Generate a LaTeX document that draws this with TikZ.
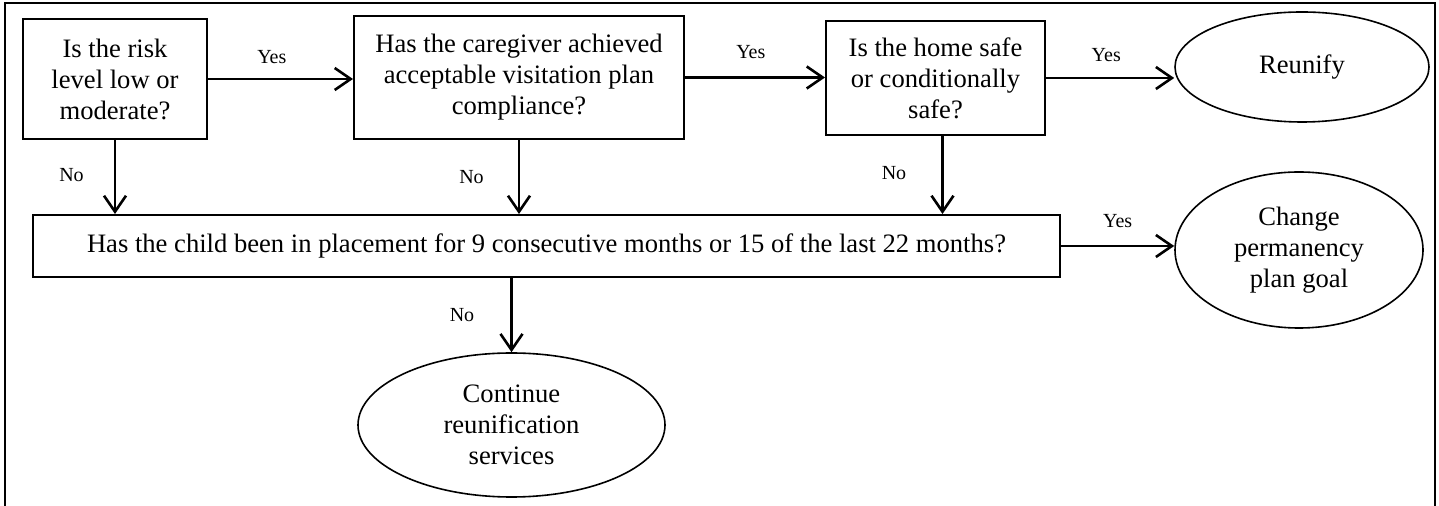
\documentclass[tikz,border=0pt]{standalone}
\usepackage{fontspec}
\setmainfont{Liberation Serif}
\usetikzlibrary{arrows.meta}
\usetikzlibrary{shapes.geometric}

\begin{document}
\begin{tikzpicture}[x=0.5pt, y=-0.5pt,
  qbox/.style={draw, line width=1pt, align=center, inner sep=0pt,
    font=\fontsize{13.3}{15.5}\selectfont},
  endoval/.style={draw, ellipse, line width=0.8pt, align=center, inner sep=0pt,
    font=\fontsize{13.3}{15.5}\selectfont},
  arr/.style={-{Straight Barb[length=8pt,width=11pt]}, line width=1.3pt},
  lbl/.style={font=\fontsize{10}{12}\selectfont, inner sep=0pt}]
\useasboundingbox (0,0) rectangle (1439,506);
\clip (0,0) rectangle (1439,506);
% frame
\draw[line width=1pt] (5,3) rectangle (1435,540);

% questions
\node[qbox, minimum width=92pt, minimum height=60pt] (risk) at (115,79) {Is the risk\\level low or\\moderate?};
\node[qbox, minimum width=165pt, minimum height=61.5pt] (comply) at (519,77.5) {Has the caregiver achieved\\acceptable visitation plan\\compliance?};
\node[qbox, minimum width=109.5pt, minimum height=57pt] (safe) at (935.5,78) {Is the home safe\\or conditionally\\safe?};
\node[qbox, minimum width=513.5pt, minimum height=31pt] (months) at (546.5,246) {Has the child been in placement for 9 consecutive months or 15 of the last 22 months?};

% outcomes
\node[endoval, minimum width=127pt, minimum height=55pt] (reunify) at (1302,67) {Reunify};
\node[endoval, minimum width=124pt, minimum height=78pt] (goal) at (1299,250) {Change\\permanency\\plan goal};
\node[endoval, minimum width=153.5pt, minimum height=72pt] (services) at (511.5,425) {Continue\\reunification\\services};

% yes
\draw[arr] (risk.east) -- (risk.east -| comply.west) node[lbl, pos=0.44, above=7pt] {Yes};
\draw[arr] (comply.east) -- (comply.east -| safe.west) node[lbl, pos=0.47, above=8.6pt] {Yes};
\draw[arr] (safe.east) -- (safe.east -| reunify.west) node[lbl, pos=0.47, above=7.6pt] {Yes};
\draw[arr] (months.east) -- (months.east -| goal.west) node[lbl, pos=0.5, above=8.6pt] {Yes};

% no
\coordinate (safedown) at ([xshift=3.5pt]safe.south);
\draw[arr] (risk.south) -- (risk.south |- months.north) node[lbl, pos=0.47, left=15pt] {No};
\draw[arr] (comply.south) -- (comply.south |- months.north) node[lbl, pos=0.5, left=17pt] {No};
\draw[arr] (safedown) -- (safedown |- months.north) node[lbl, pos=0.47, left=17.5pt] {No};
\draw[arr] (services.north |- months.south) -- (services.north) node[lbl, pos=0.5, left=18pt] {No};
\end{tikzpicture}
\end{document}
